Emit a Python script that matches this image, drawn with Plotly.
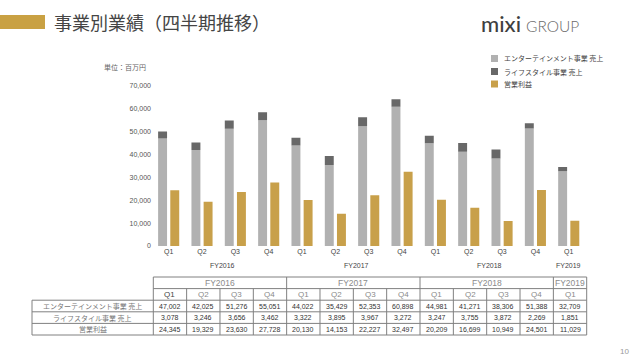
import plotly.graph_objects as go

# ---------------- data ----------------
fiscal_years = ["FY2016"] * 4 + ["FY2017"] * 4 + ["FY2018"] * 4 + ["FY2019"]
quarters = ["Q1", "Q2", "Q3", "Q4"] * 3 + ["Q1"]
entertainment = [47002, 42025, 51276, 55051, 44022, 35429, 52353, 60898,
                 44981, 41271, 38306, 51388, 32709]
lifestyle = [3078, 3246, 3656, 3462, 3322, 3895, 3967, 3272,
             3247, 3755, 3872, 2269, 1851]
operating_profit = [24345, 19329, 23630, 27728, 20130, 14153, 22227, 32497,
                    20209, 16699, 10949, 24501, 11029]
series_names = ["エンターテインメント事業 売上", "ライフスタイル事業 売上", "営業利益"]
y_tick_values = [0, 10000, 20000, 30000, 40000, 50000, 60000, 70000]
title_text = "事業別業績（四半期推移）"
unit_text = "単位：百万円"
page_number = "10"

# ---------------- styling ----------------
W, H = 640, 359
COL_ENT = "#b1b1b1"
COL_LIFE = "#686868"
COL_OP = "#c8a04a"
FONT = "Liberation Sans, Noto Sans CJK JP, sans-serif"
JFONT = "Noto Sans CJK JP, sans-serif"
LINE = "#808080"


def X(px):
    return px / W


def Y(py):
    return 1 - py / H


categories = [f"{fy} {q}" for fy, q in zip(fiscal_years, quarters)]
n = len(categories)

dom_left, dom_right = 152, 585.4
plot_top, plot_bottom = 86, 246

fig = go.Figure()
fig.add_trace(go.Bar(x=categories, y=entertainment, name=series_names[0],
                     marker=dict(color=COL_ENT, line=dict(width=0)),
                     offsetgroup="sales", showlegend=False))
fig.add_trace(go.Bar(x=categories, y=lifestyle, base=entertainment, name=series_names[1],
                     marker=dict(color=COL_LIFE, line=dict(width=0)),
                     offsetgroup="sales", showlegend=False))
fig.add_trace(go.Bar(x=categories, y=operating_profit, name=series_names[2],
                     marker=dict(color=COL_OP, line=dict(width=0)),
                     offsetgroup="op", showlegend=False))

shapes = []
annotations = []

# title block
shapes.append(dict(type="rect", xref="paper", yref="paper",
                   x0=X(0), x1=X(45), y0=Y(29), y1=Y(15),
                   fillcolor="#c9a143", line=dict(width=0)))
annotations.append(dict(text=title_text, xref="paper", yref="paper",
                        x=X(52), y=Y(22), xanchor="left", yanchor="middle",
                        showarrow=False,
                        font=dict(family=JFONT, size=18, color="#454545")))

# logo
annotations.append(dict(text="mixi", xref="paper", yref="paper",
                        x=X(479), y=Y(24), xanchor="left", yanchor="middle",
                        showarrow=False,
                        font=dict(family="Lato, sans-serif", size=22, color="#3f3f3f", weight=500)))
annotations.append(dict(text="GROUP", xref="paper", yref="paper",
                        x=X(524), y=Y(26), xanchor="left", yanchor="middle",
                        showarrow=False,
                        font=dict(family="Lato, sans-serif", size=15.5, color="#6a6a6a", weight=300)))

# unit label
annotations.append(dict(text=unit_text, xref="paper", yref="paper",
                        x=X(102), y=Y(67), xanchor="left", yanchor="middle",
                        showarrow=False,
                        font=dict(family=JFONT, size=7, color="#666")))

# manual legend
legend_colors = [COL_ENT, COL_LIFE, COL_OP]
legend_rows = [58.5, 71.5, 84]
for name, col, ry in zip(series_names, legend_colors, legend_rows):
    shapes.append(dict(type="rect", xref="paper", yref="paper",
                       x0=X(491), x1=X(498), y0=Y(ry + 3.5), y1=Y(ry - 3.5),
                       fillcolor=col, line=dict(width=0)))
    annotations.append(dict(text=name, xref="paper", yref="paper",
                            x=X(502), y=Y(ry), xanchor="left", yanchor="middle",
                            showarrow=False,
                            font=dict(family=JFONT, size=7, color="#444")))

# FY group labels under x axis
groups = []
for i, fy in enumerate(fiscal_years):
    if groups and groups[-1][0] == fy:
        groups[-1][2] = i
    else:
        groups.append([fy, i, i])

cw = (dom_right - dom_left) / n
for fy, s, e in groups:
    cx = dom_left + cw * ((s + e) / 2 + 0.5)
    annotations.append(dict(text=fy, xref="paper", yref="paper",
                            x=X(cx + (4 if e > s else 0)), y=Y(265), xanchor="center", yanchor="middle",
                            showarrow=False,
                            font=dict(family=FONT, size=7, color="#444")))

# ---------------- table ----------------
tab_left, tab_right = 153.3, 586.7
tcw = (tab_right - tab_left) / n
col_edges = [tab_left + i * tcw for i in range(n + 1)]
label_left = 32
row_edges = [277, 288.6, 300.2, 311.8, 323.4, 335]


def hline(y, x0, x1):
    shapes.append(dict(type="line", xref="paper", yref="paper",
                       x0=X(x0), x1=X(x1), y0=Y(y), y1=Y(y),
                       line=dict(color=LINE, width=1)))


def vline(x, y0, y1):
    shapes.append(dict(type="line", xref="paper", yref="paper",
                       x0=X(x), x1=X(x), y0=Y(y0), y1=Y(y1),
                       line=dict(color=LINE, width=1)))


hline(row_edges[0], col_edges[0], col_edges[-1])
hline(row_edges[1], col_edges[0], col_edges[-1])
for r in row_edges[2:]:
    hline(r, label_left, col_edges[-1])
vline(label_left, row_edges[2], row_edges[-1])
group_bounds = {col_edges[0]} | {col_edges[e + 1] for _, _, e in groups}
for xe in col_edges:
    if xe in group_bounds:
        vline(xe, row_edges[0], row_edges[-1])
    else:
        vline(xe, row_edges[1], row_edges[-1])


def cell_text(text, cx, r, size, color, family=FONT):
    cy = (row_edges[r] + row_edges[r + 1]) / 2
    annotations.append(dict(text=text, xref="paper", yref="paper",
                            x=X(cx), y=Y(cy), xanchor="center", yanchor="middle",
                            showarrow=False,
                            font=dict(family=family, size=size, color=color)))


for fy, s, e in groups:
    cell_text(fy, (col_edges[s] + col_edges[e + 1]) / 2, 0, 8.5, "#8a8a8a")
for i, q in enumerate(quarters):
    cell_text(q, (col_edges[i] + col_edges[i + 1]) / 2, 1, 8, "#444" if i == 0 else "#8a8a8a")

label_cx = (label_left + col_edges[0]) / 2
for r, (name, vals) in enumerate(zip(series_names, [entertainment, lifestyle, operating_profit])):
    cell_text(name, label_cx, r + 2, 7, "#777", JFONT)
    for i, v in enumerate(vals):
        cell_text(f"{v:,}", (col_edges[i] + col_edges[i + 1]) / 2, r + 2, 7, "#333")

# page number
annotations.append(dict(text=page_number, xref="paper", yref="paper",
                        x=X(624), y=Y(351), xanchor="center", yanchor="middle",
                        showarrow=False,
                        font=dict(family=FONT, size=8, color="#999")))

fig.update_layout(
    width=W, height=H,
    margin=dict(l=0, r=0, t=0, b=0),
    paper_bgcolor="white", plot_bgcolor="white",
    barmode="group", bargap=0.27, bargroupgap=0.265,
    showlegend=False,
    hovermode=False,
    xaxis=dict(domain=[X(dom_left), X(dom_right)], type="category",
               tickvals=categories, ticktext=quarters,
               showgrid=False, zeroline=False, showline=False, ticks="",
               tickfont=dict(family=FONT, size=7, color="#444"),
               automargin=False),
    yaxis=dict(domain=[Y(plot_bottom), Y(plot_top)], range=[0, 70000],
               tickvals=y_tick_values, tickformat=",",
               showgrid=False, zeroline=False, showline=False, ticks="",
               tickfont=dict(family=FONT, size=7, color="#555"),
               automargin=False),
    shapes=shapes,
    annotations=annotations,
)

fig.write_html("out.html",
               config={"displayModeBar": False, "staticPlot": True},
               post_script="document.body.style.margin='0';document.body.style.overflow='hidden';")
